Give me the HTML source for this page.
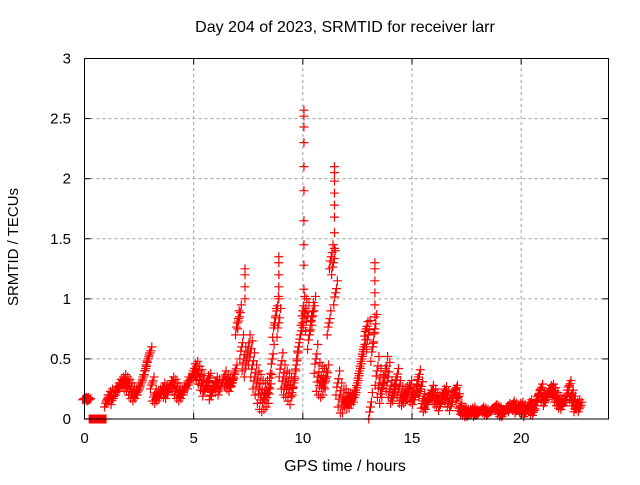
<!DOCTYPE html>
<html><head><meta charset="utf-8"><style>
body{margin:0;background:#fff;font-family:"Liberation Sans",sans-serif}
svg text{font-family:"Liberation Sans",sans-serif;font-size:15px;fill:#000}
</style></head><body>
<svg id="chart" width="640" height="480" viewBox="0 0 640 480" xmlns="http://www.w3.org/2000/svg">
<rect width="640" height="480" fill="#fff"/>
<g id="grid"></g>
<g id="marks"></g>
<rect x="84.5" y="58.5" width="524" height="360.5" fill="none" stroke="#000" stroke-width="1"/>
<g id="ticks"></g>
<text x="345" y="32" text-anchor="middle" style="font-size:16px">Day 204 of 2023, SRMTID for receiver larr</text>
<text x="345" y="471" text-anchor="middle" style="font-size:16px">GPS time / hours</text>
<text x="18" y="247" text-anchor="middle" transform="rotate(-90 18 247)">SRMTID / TECUs</text>
</svg>
<script>
const xTicks=[0,5,10,15,20];
const yTicks=[0,0.5,1,1.5,2,2.5,3];
const yTickLabels=["0","0.5","1","1.5","2","2.5","3"];
const tStep=0.1;
const values=[0.17,0.17,0.16,0,0,0,0,0,0,0,
0.15,0.18,0.2,0.17,0.22,0.25,0.28,0.3,0.32,0.3,
0.28,0.25,0.22,0.2,0.22,0.25,0.3,0.35,0.42,0.5,
0.55,0.3,0.2,0.18,0.2,0.22,0.25,0.23,0.22,0.27,
0.3,0.28,0.25,0.22,0.2,0.22,0.25,0.3,0.3,0.35,
0.4,0.42,0.38,0.35,0.3,0.25,0.3,0.32,0.22,0.25,
0.3,0.28,0.25,0.3,0.35,0.32,0.3,0.28,0.32,0.4,
0.8,0.85,0.6,0.5,0.45,0.6,0.55,0.45,0.35,0.3,
0.25,0.2,0.18,0.2,0.22,0.25,0.5,0.8,0.9,0.8,
0.45,0.35,0.3,0.28,0.25,0.22,0.3,0.45,0.6,0.7,
0.9,0.88,0.85,0.7,0.85,0.9,0.5,0.35,0.32,0.3,
0.3,0.35,0.8,1.35,1.3,1.05,0.3,0.2,0.15,0.15,
0.16,0.15,0.15,0.18,0.2,0.3,0.4,0.5,0.6,0.75,
0.7,0.1,0.6,0.75,0.4,0.3,0.25,0.3,0.4,0.35,
0.25,0.2,0.22,0.35,0.25,0.2,0.18,0.2,0.22,0.25,
0.2,0.18,0.22,0.35,0.25,0.15,0.12,0.14,0.18,0.22,
0.2,0.17,0.15,0.12,0.2,0.22,0.18,0.15,0.12,0.2,
0.25,0.18,0.1,0.07,0.06,0.05,0.05,0.06,0.07,0.05,
0.05,0.06,0.08,0.07,0.06,0.05,0.07,0.08,0.1,0.09,
0.07,0.05,0.05,0.08,0.1,0.09,0.12,0.1,0.08,0.1,
0.1,0.08,0.06,0.1,0.12,0.08,0.07,0.15,0.2,0.25,
0.18,0.15,0.2,0.24,0.25,0.22,0.18,0.15,0.13,0.12,
0.15,0.2,0.28,0.2,0.15,0.1,0.12,0.1];
const hourSpread=[0.01,0.05,0.05,0.05,0.05,0.06,0.05,0.1,0.12,0.1,0.12,0.1,0.06,0.12,0.07,0.06,0.05,0.03,0.02,0.03,0.04,0.04,0.04,0.04];
const spikeTimes=[7.35,7.35,7.35,7.35,8.9,8.9,8.9,8.9,8.9,10.05,10.05,10.05,10.05,10.05,10.05,10.05,10.05,10.05,10.05,11.45,11.45,11.45,11.45,11.45,11.45,11.45,11.45,13.3,13.3,13.3,13.3,13.3,13.3];
const spikeValues=[1.25,1.2,1.1,1.0,1.35,1.3,1.2,1.1,1.0,2.57,2.52,2.43,2.3,2.1,1.9,1.65,1.45,1.28,1.08,2.1,2.05,1.98,1.88,1.78,1.68,1.55,1.42,1.3,1.25,1.15,1.05,0.95,0.85];
const ns='http://www.w3.org/2000/svg';
const X0=84.5,X1=608.5,Y0=419,Y1=58.5;
function xs(t){return X0+t/24*(X1-X0);}
function ys(v){return Y0-v/3*(Y0-Y1);}
const grid=document.getElementById('grid'),ticks=document.getElementById('ticks'),marks=document.getElementById('marks');
function mk(tag,attrs,parent){const e=document.createElementNS(ns,tag);for(const k in attrs)e.setAttribute(k,attrs[k]);parent.appendChild(e);return e;}
xTicks.forEach(t=>{const x=xs(t);
 if(t>0){const g=mk('line',{x1:x,x2:x,y1:Y0,y2:Y1,stroke:'#a0a0a0','stroke-dasharray':'3,3'},grid);}
 const l=mk('line',{x1:x,x2:x,y1:Y0,y2:Y0-6,stroke:'#000'},ticks);
 const l2=mk('line',{x1:x,x2:x,y1:Y1,y2:Y1+6,stroke:'#000'},ticks);
 const tx=mk('text',{x:x,y:443,'text-anchor':'middle'},ticks);tx.textContent=String(t);});
yTicks.forEach((v,i)=>{const y=ys(v);
 if(v>0&&v<3){const g=mk('line',{x1:X0,x2:X1,y1:y,y2:y,stroke:'#a0a0a0','stroke-dasharray':'3,3'},grid);}
 const l=mk('line',{x1:X0,x2:X0+6,y1:y,y2:y,stroke:'#000'},ticks);
 const l2=mk('line',{x1:X1,x2:X1-6,y1:y,y2:y,stroke:'#000'},ticks);
 const tx=mk('text',{x:71,y:y+5,'text-anchor':'end'},ticks);tx.textContent=yTickLabels[i];});
let d='';
function plus(x,y){d+=`M${x-4.5},${y}h9M${x},${y-4.5}v9`;}
values.forEach((v,i)=>{const t=i*tStep;const s=hourSpread[Math.floor(t)]||0.04;
 const x=xs(t);
 [-1,-0.5,0,0.5,1].forEach((f,j)=>{let vv=Math.max(0,v+f*s*(j%2?0.7:1));if(v===0)vv=0;plus(x+(j-2)*0.9,ys(vv));});
});
spikeTimes.forEach((t,i)=>{plus(xs(t),ys(spikeValues[i]));});
const p=mk('path',{d:d,stroke:'#ff0000','stroke-width':1.2,fill:'none'},marks);


</script>
</body></html>
